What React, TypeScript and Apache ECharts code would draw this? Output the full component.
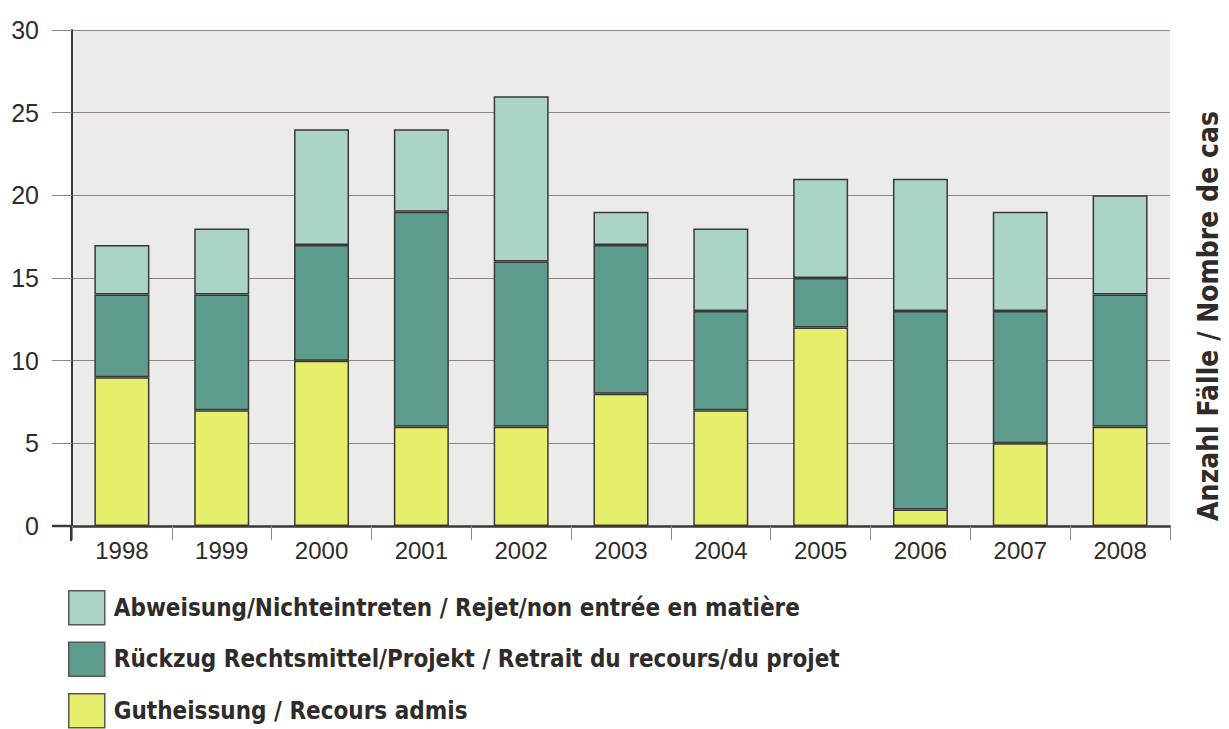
import React, { useEffect, useRef } from "react";
import * as echarts from "echarts";

const years = ["1998", "1999", "2000", "2001", "2002", "2003", "2004", "2005", "2006", "2007", "2008"];
const gutheissung = [9, 7, 10, 6, 6, 8, 7, 12, 1, 5, 6];
const rueckzug = [5, 7, 7, 13, 10, 9, 6, 3, 12, 8, 8];
const abweisung = [3, 4, 7, 5, 10, 2, 5, 6, 8, 6, 6];
const yTicks = { min: 0, max: 30, interval: 5 };

const names = {
  a: "Abweisung/Nichteintreten / Rejet/non entrée en matière",
  r: "Rückzug Rechtsmittel/Projekt / Retrait du recours/du projet",
  g: "Gutheissung / Recours admis",
};

const NUMFONT = "'Liberation Sans', Arial, sans-serif";
const BOLDFONT = "'DejaVu Sans Condensed', 'Liberation Sans', sans-serif";
const TEXT = "#2f2b2b";
const GRID = "#8f8586";
const EDGE = "#3d3838";

export default function App() {
  const ref = useRef<HTMLDivElement>(null);
  useEffect(() => {
    document.body.style.margin = "0";
    const chart = echarts.init(ref.current!, null, { renderer: "svg" });
    const bar = (name: string, data: number[], color: string) => ({
      name,
      type: "bar",
      stack: "total",
      data,
      barWidth: 55,
      itemStyle: { color, borderColor: EDGE, borderWidth: 1.5 },
    });
    chart.setOption({
      animation: false,
      backgroundColor: "#ffffff",
      textStyle: { fontFamily: NUMFONT },
      grid: {
        left: 72,
        right: 59,
        top: 30,
        bottom: 203,
        show: true,
        backgroundColor: "#ebebea",
        borderWidth: 0,
      },
      legend: {
        orient: "vertical",
        left: 68,
        top: 590,
        padding: 0,
        itemWidth: 36,
        itemHeight: 34,
        itemGap: 16,
        icon: "rect",
        data: [names.a, names.r, names.g],
        itemStyle: { borderColor: "#5a5555", borderWidth: 1.5 },
        textStyle: {
          fontFamily: BOLDFONT,
          fontWeight: "bold",
          fontSize: 24,
          color: TEXT,
          padding: [0, 0, 0, 4],
        },
      },
      xAxis: {
        type: "category",
        data: years,
        axisLine: { lineStyle: { color: EDGE, width: 2.5 } },
        axisTick: { show: true, length: 14, interval: 0, lineStyle: { color: GRID, width: 1 } },
        axisLabel: { fontFamily: NUMFONT, fontSize: 24, color: TEXT, margin: 12, interval: 0 },
      },
      yAxis: {
        type: "value",
        min: yTicks.min,
        max: yTicks.max,
        interval: yTicks.interval,
        axisLine: { show: true, lineStyle: { color: EDGE, width: 2 } },
        axisTick: { show: true, length: 20, lineStyle: { color: GRID, width: 1 } },
        axisLabel: { fontFamily: NUMFONT, fontSize: 25, color: TEXT, margin: 33 },
        splitLine: { show: true, lineStyle: { color: GRID, width: 1 } },
      },
      graphic: [
        {
          type: "line",
          shape: { x1: 52, y1: 526, x2: 72, y2: 526 },
          style: { stroke: EDGE, lineWidth: 2.5 },
          z: 10,
        },
        {
          type: "line",
          shape: { x1: 71, y1: 526, x2: 71, y2: 541 },
          style: { stroke: EDGE, lineWidth: 2 },
          z: 10,
        },
        {
          type: "text",
          x: 1208,
          y: 316,
          rotation: Math.PI / 2,
          style: {
            text: "Anzahl Fälle / Nombre de cas",
            fontFamily: BOLDFONT,
            fontWeight: "bold",
            fontSize: 28,
            fill: TEXT,
            align: "center",
            verticalAlign: "middle",
          },
        },
      ],
      series: [
        bar(names.g, gutheissung, "#e6ef6c"),
        bar(names.r, rueckzug, "#5d9c8d"),
        bar(names.a, abweisung, "#abd4c9"),
      ],
    });
    return () => chart.dispose();
  }, []);
  return <div ref={ref} style={{ width: 1229, height: 729 }} />;
}
